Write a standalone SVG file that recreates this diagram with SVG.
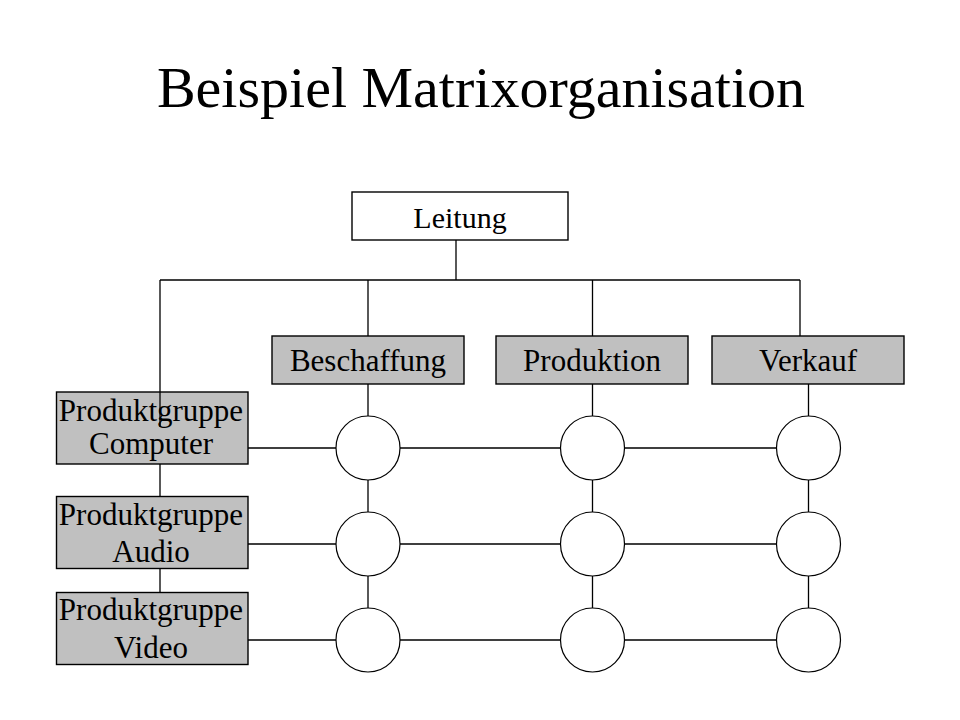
<svg xmlns="http://www.w3.org/2000/svg" width="960" height="720" viewBox="0 0 960 720">
<style>
text{font-family:"Liberation Serif","Times New Roman",serif;fill:#000;text-anchor:middle}
.title{font-size:58px}
.lbl{font-size:31px}
.box{stroke:#000;stroke-width:1.4}
.g{fill:#C0C0C0}
.w{fill:#fff}
.c{fill:#fff;stroke:#000;stroke-width:1.2}
.ln{stroke:#000;stroke-width:1.3;fill:none}
</style>
<rect x="0" y="0" width="960" height="720" fill="#fff"/>
<text class="title" x="481" y="107">Beispiel Matrixorganisation</text>
<g id="connectors">
<path class="ln" d="M456 240V280M160 280H800M368 280V336M592.5 280V336M800 280V336"/>
<path class="ln" d="M160 280V392M160 464V496M160 568V592"/>
<path class="ln" d="M368 384V416M368 480V512M368 576V608M592.5 384V416M592.5 480V512M592.5 576V608M808.5 384V416M808.5 480V512M808.5 576V608"/>
<path class="ln" d="M248 448H336M400 448H560.5M624.5 448H776.5M248 544H336M400 544H560.5M624.5 544H776.5M248 640H336M400 640H560.5M624.5 640H776.5"/>
</g>
<g id="leitung"><rect class="box w" x="352" y="192" width="216" height="48"/><text class="lbl" x="460" y="228" style="font-size:30px">Leitung</text></g>
<g id="beschaffung"><rect class="box g" x="272" y="336" width="192" height="48"/><text class="lbl" x="368" y="371">Beschaffung</text></g>
<g id="produktion"><rect class="box g" x="496" y="336" width="192" height="48"/><text class="lbl" x="592" y="371">Produktion</text></g>
<g id="verkauf"><rect class="box g" x="712" y="336" width="192" height="48"/><text class="lbl" x="808" y="371">Verkauf</text></g>
<g id="pg-computer"><rect class="box g" x="56.5" y="392" width="191.5" height="72"/><line class="ln" x1="160" y1="392" x2="160" y2="427"/><text class="lbl" x="151" y="421">Produktgruppe</text><text class="lbl" x="151" y="454">Computer</text></g>
<g id="pg-audio"><rect class="box g" x="56.5" y="496.5" width="191.5" height="72"/><text class="lbl" x="151" y="525">Produktgruppe</text><text class="lbl" x="151" y="562">Audio</text></g>
<g id="pg-video"><rect class="box g" x="56.5" y="592.5" width="191.5" height="72"/><text class="lbl" x="151" y="620">Produktgruppe</text><text class="lbl" x="151" y="658">Video</text></g>
<g id="n11"><ellipse class="c" cx="368" cy="448" rx="32" ry="32"/></g>
<g id="n12"><ellipse class="c" cx="592.5" cy="448" rx="32" ry="32"/></g>
<g id="n13"><ellipse class="c" cx="808.5" cy="448" rx="32" ry="32"/></g>
<g id="n21"><ellipse class="c" cx="368" cy="544" rx="32" ry="32"/></g>
<g id="n22"><ellipse class="c" cx="592.5" cy="544" rx="32" ry="32"/></g>
<g id="n23"><ellipse class="c" cx="808.5" cy="544" rx="32" ry="32"/></g>
<g id="n31"><ellipse class="c" cx="368" cy="640" rx="32" ry="32"/></g>
<g id="n32"><ellipse class="c" cx="592.5" cy="640" rx="32" ry="32"/></g>
<g id="n33"><ellipse class="c" cx="808.5" cy="640" rx="32" ry="32"/></g>
</svg>
